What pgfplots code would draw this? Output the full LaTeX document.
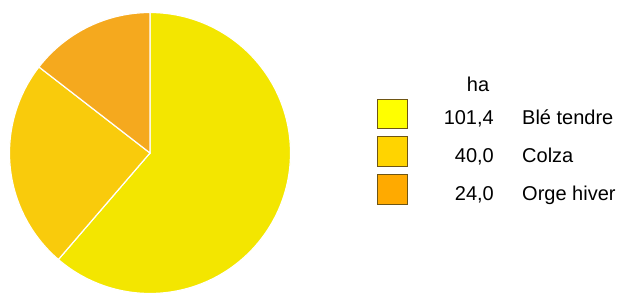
\documentclass[border=0pt]{standalone}
\usepackage{pgfplots}
\usepackage{pgfplotstable}
\pgfplotsset{compat=1.18}
\usepackage{fontspec}
\setmainfont{Liberation Sans}
\definecolor{cA}{RGB}{243,230,0}
\definecolor{cB}{RGB}{249,203,12}
\definecolor{cC}{RGB}{245,169,30}
\definecolor{lA}{RGB}{255,255,0}
\definecolor{lB}{RGB}{255,212,0}
\definecolor{lC}{RGB}{255,170,0}
\definecolor{bord}{RGB}{110,85,20}
\pgfplotstableread[col sep=comma]{
crop,ha
Blé tendre,101.4
Colza,40.0
Orge hiver,24.0
}\datatable
\pgfplotstablegetelem{0}{ha}\of\datatable \let\vA\pgfplotsretval
\pgfplotstablegetelem{1}{ha}\of\datatable \let\vB\pgfplotsretval
\pgfplotstablegetelem{2}{ha}\of\datatable \let\vC\pgfplotsretval
\pgfmathsetmacro{\tot}{\vA+\vB+\vC}
\pgfmathsetmacro{\fA}{\vA/\tot}
\pgfmathsetmacro{\fB}{\vB/\tot}
\pgfmathsetmacro{\aA}{90-360*\fA}
\pgfmathsetmacro{\aB}{\aA-360*\fB}
\begin{document}
\fontsize{20bp}{24bp}\selectfont
\begin{tikzpicture}
\begin{axis}[width=621bp,height=296bp,scale only axis,
  xmin=0,xmax=621,ymin=0,ymax=296,hide axis,clip=false]
\path (axis cs:0,0) (axis cs:621,296);
\addplot[fill=cA,draw=white,line width=1.2bp,domain=\aA:90,samples=150,variable=\t]
  ({150+140.5*cos(\t)},{143+140.5*sin(\t)}) -- (axis cs:150,143) -- cycle;
\addplot[fill=cB,draw=white,line width=1.2bp,domain=\aB:\aA,samples=80,variable=\t]
  ({150+140.5*cos(\t)},{143+140.5*sin(\t)}) -- (axis cs:150,143) -- cycle;
\addplot[fill=cC,draw=white,line width=1.2bp,domain=-270:\aB,samples=60,variable=\t]
  ({150+140.5*cos(\t)},{143+140.5*sin(\t)}) -- (axis cs:150,143) -- cycle;
% legend
\node[anchor=base,inner sep=0pt] at (axis cs:478,204.3) {ha};
\draw[fill=lA,draw=bord,line width=0.8bp] (axis cs:377.5,167.7) rectangle (axis cs:407.5,197);
\draw[fill=lB,draw=bord,line width=0.8bp] (axis cs:377.5,130) rectangle (axis cs:407.5,159.5);
\draw[fill=lC,draw=bord,line width=0.8bp] (axis cs:377.5,91.7) rectangle (axis cs:407.5,121.5);
\node[anchor=base east,inner sep=0pt] at (axis cs:494,171) {101,4};
\node[anchor=base west,inner sep=0pt] at (axis cs:522,171) {Blé tendre};
\node[anchor=base east,inner sep=0pt] at (axis cs:494,133.3) {40,0};
\node[anchor=base west,inner sep=0pt] at (axis cs:522,133.3) {Colza};
\node[anchor=base east,inner sep=0pt] at (axis cs:494,95.3) {24,0};
\node[anchor=base west,inner sep=0pt] at (axis cs:522,95.3) {Orge hiver};
\end{axis}
\end{tikzpicture}
\end{document}
